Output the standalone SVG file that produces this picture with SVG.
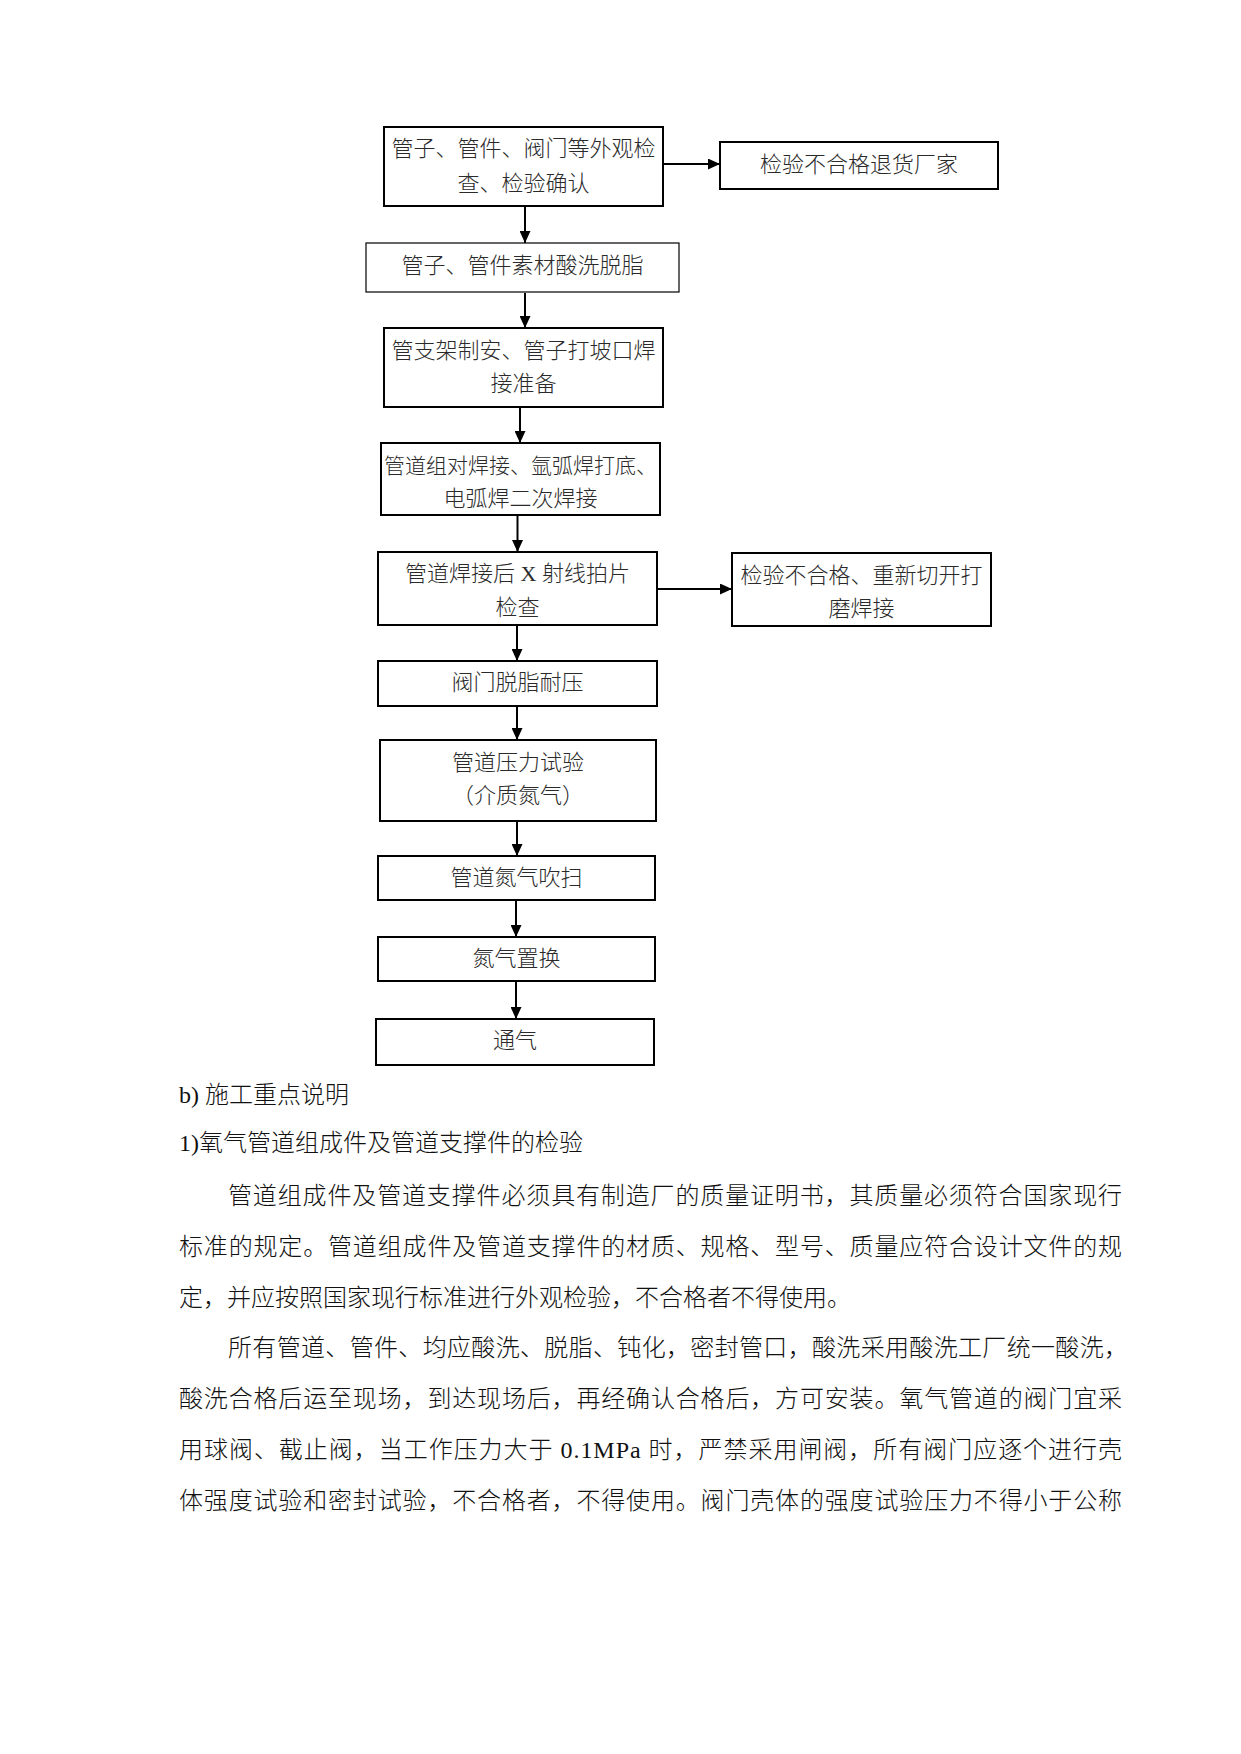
<svg xmlns="http://www.w3.org/2000/svg" width="1241" height="1754" viewBox="0 0 1241 1754">
<style>
  .box { fill: #ffffff; stroke: #000000; stroke-width: 2; }
  .thin { stroke-width: 1.2; }
  .bt { font-family: "Liberation Serif", "Noto Sans CJK SC", sans-serif; font-size: 22px; font-weight: 300; fill: #2a2a2a; text-anchor: middle; }
  .body { font-family: "Liberation Serif", "Noto Sans CJK SC", sans-serif; font-size: 24px; font-weight: 300; fill: #111111; }
  .conn { stroke: #000000; stroke-width: 2; fill: none; marker-end: url(#ah); }
</style>
<defs>
  <marker id="ah" markerUnits="userSpaceOnUse" markerWidth="12" markerHeight="11" refX="12" refY="5.5" orient="auto">
    <path d="M0,0 L12,5.5 L0,11 z" fill="#000000"/>
  </marker>
</defs>
<rect x="0" y="0" width="1241" height="1754" fill="#ffffff"/>

<g id="connectors">
  <line class="conn" x1="663" y1="164" x2="720" y2="164"/>
  <line class="conn" x1="525" y1="207" x2="525" y2="243"/>
  <line class="conn" x1="525" y1="293" x2="525" y2="328"/>
  <line class="conn" x1="520" y1="408" x2="520" y2="443"/>
  <line class="conn" x1="517.5" y1="516" x2="517.5" y2="552"/>
  <line class="conn" x1="657" y1="589" x2="732" y2="589"/>
  <line class="conn" x1="517" y1="626" x2="517" y2="661"/>
  <line class="conn" x1="517" y1="707" x2="517" y2="740"/>
  <line class="conn" x1="517" y1="822" x2="517" y2="856"/>
  <line class="conn" x1="516" y1="901" x2="516" y2="937"/>
  <line class="conn" x1="516" y1="982" x2="516" y2="1019"/>
</g>

<g id="n1">
  <rect class="box" x="384" y="127" width="279" height="79"/>
  <text class="bt" x="523.5" y="156">管子、管件、阀门等外观检</text>
  <text class="bt" x="523.5" y="191">查、检验确认</text>
</g>
<g id="n1r">
  <rect class="box" x="720" y="142" width="278" height="47"/>
  <text class="bt" x="859" y="172">检验不合格退货厂家</text>
</g>
<g id="n2">
  <rect class="box thin" x="366" y="243" width="313" height="49"/>
  <text class="bt" x="522.5" y="273">管子、管件素材酸洗脱脂</text>
</g>
<g id="n3">
  <rect class="box" x="384" y="328" width="279" height="79"/>
  <text class="bt" x="523.5" y="358">管支架制安、管子打坡口焊</text>
  <text class="bt" x="523.5" y="391">接准备</text>
</g>
<g id="n4">
  <rect class="box" x="381" y="443" width="279" height="72"/>
  <text class="bt" x="520.5" y="473" style="font-size:21px">管道组对焊接、氩弧焊打底、</text>
  <text class="bt" x="520.5" y="506">电弧焊二次焊接</text>
</g>
<g id="n5">
  <rect class="box" x="378" y="552" width="279" height="73"/>
  <text class="bt" x="517.5" y="581">管道焊接后 X 射线拍片</text>
  <text class="bt" x="517.5" y="615">检查</text>
</g>
<g id="n5r">
  <rect class="box" x="732" y="553" width="259" height="73"/>
  <text class="bt" x="861.5" y="583">检验不合格、重新切开打</text>
  <text class="bt" x="861.5" y="616">磨焊接</text>
</g>
<g id="n6">
  <rect class="box" x="378" y="661" width="279" height="45"/>
  <text class="bt" x="517.5" y="690">阀门脱脂耐压</text>
</g>
<g id="n7">
  <rect class="box" x="380" y="740" width="276" height="81"/>
  <text class="bt" x="518" y="770">管道压力试验</text>
  <text class="bt" x="518" y="803">（介质氮气）</text>
</g>
<g id="n8">
  <rect class="box" x="378" y="856" width="277" height="44"/>
  <text class="bt" x="516.5" y="885">管道氮气吹扫</text>
</g>
<g id="n9">
  <rect class="box" x="378" y="937" width="277" height="44"/>
  <text class="bt" x="516.5" y="966">氮气置换</text>
</g>
<g id="n10">
  <rect class="box" x="376" y="1019" width="278" height="46"/>
  <text class="bt" x="515" y="1048">通气</text>
</g>

<g id="bodytext">
  <text class="body" x="179" y="1103">b) 施工重点说明</text>
  <text class="body" x="179" y="1151">1)氧气管道组成件及管道支撑件的检验</text>
  <text class="body" x="228" y="1204" textLength="894" lengthAdjust="spacing">管道组成件及管道支撑件必须具有制造厂的质量证明书，其质量必须符合国家现行</text>
  <text class="body" x="179" y="1255" textLength="943" lengthAdjust="spacing">标准的规定。管道组成件及管道支撑件的材质、规格、型号、质量应符合设计文件的规</text>
  <text class="body" x="179" y="1306">定，并应按照国家现行标准进行外观检验，不合格者不得使用。</text>
  <text class="body" x="228" y="1356" textLength="900" lengthAdjust="spacing">所有管道、管件、均应酸洗、脱脂、钝化，密封管口，酸洗采用酸洗工厂统一酸洗，</text>
  <text class="body" x="179" y="1407" textLength="943" lengthAdjust="spacing">酸洗合格后运至现场，到达现场后，再经确认合格后，方可安装。氧气管道的阀门宜采</text>
  <text class="body" x="179" y="1458" textLength="943" lengthAdjust="spacing">用球阀、截止阀，当工作压力大于 0.1MPa 时，严禁采用闸阀，所有阀门应逐个进行壳</text>
  <text class="body" x="179" y="1509" textLength="943" lengthAdjust="spacing">体强度试验和密封试验，不合格者，不得使用。阀门壳体的强度试验压力不得小于公称</text>
</g>
</svg>
